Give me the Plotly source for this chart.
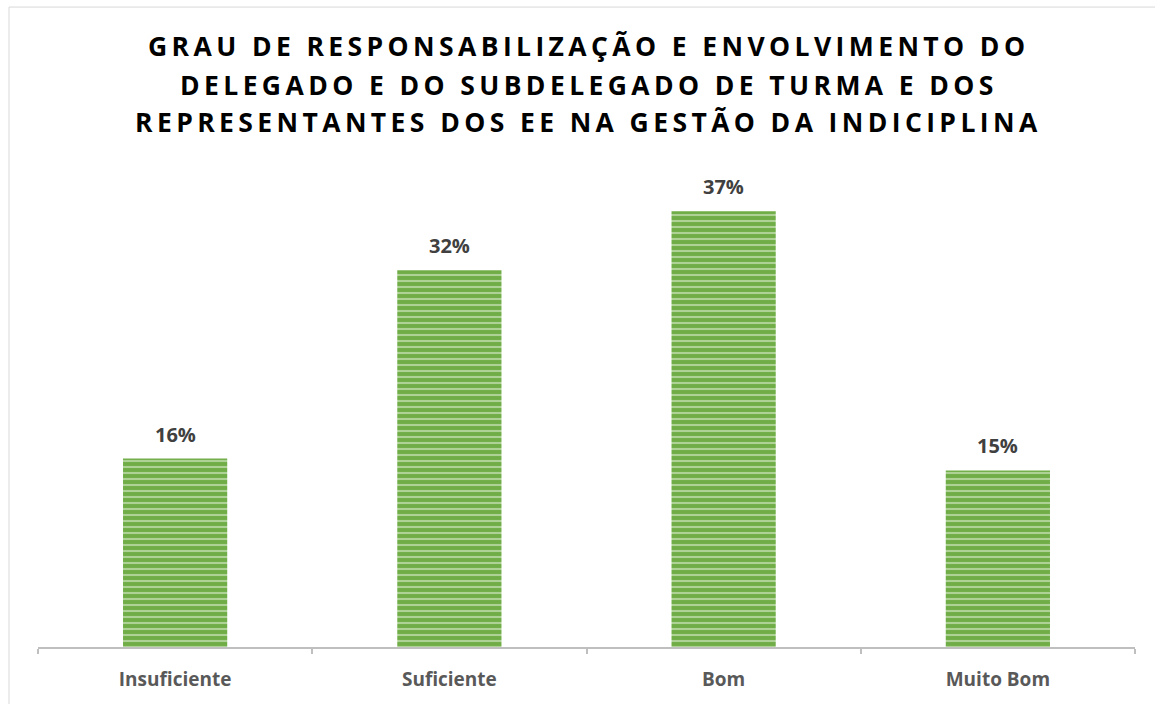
import plotly.graph_objects as go

categories = ["Insuficiente", "Suficiente", "Bom", "Muito Bom"]
values = [16, 32, 37, 15]
labels = ["16%", "32%", "37%", "15%"]
title_lines = [
    "GRAU DE RESPONSABILIZAÇÃO E ENVOLVIMENTO DO",
    "DELEGADO E DO SUBDELEGADO DE TURMA E DOS",
    "REPRESENTANTES DOS EE NA GESTÃO DA INDICIPLINA",
]

SP = "\u2009"


def spaced(s):
    return SP.join(list(s))


W, H = 1155, 704
ML, MR, MT, MB = 38, 20, 176, 54
PH = H - MT - MB
PW = W - ML - MR


def py(pix):
    return (H - MB - pix) / PH


def px(pix):
    return (pix - ML) / PW


fig = go.Figure()
fig.add_trace(go.Bar(
    x=categories,
    y=values,
    marker=dict(
        color="#70AD47",
        line=dict(width=0),
        pattern=dict(shape="-", bgcolor="#70AD47", fgcolor="#ECF5E6",
                     size=6, solidity=0.35, fillmode="overlay"),
    ),
    hoverinfo="skip",
))

for c, v, t in zip(categories, values, labels):
    fig.add_annotation(x=c, y=v, text=t, showarrow=False, yanchor="bottom",
                       yshift=9, font=dict(family="Open Sans", size=20,
                                           color="#404040", weight="bold"))

for line, ypix in zip(title_lines, [45, 84, 122]):
    fig.add_annotation(
        xref="paper", yref="paper", x=px(586), y=py(ypix), yanchor="middle",
        xanchor="center", text=spaced(line), showarrow=False,
        font=dict(family="Open Sans", size=26.5, color="#000000", weight="bold"),
    )

fig.add_shape(type="rect", xref="paper", yref="paper",
              x0=px(9), x1=px(1300), y0=py(800), y1=py(6),
              line=dict(color="#D9D9D9", width=1), fillcolor="rgba(0,0,0,0)",
              layer="below")

fig.update_layout(
    width=W, height=H,
    margin=dict(l=ML, r=MR, t=MT, b=MB),
    paper_bgcolor="white", plot_bgcolor="white",
    bargap=0.62,
    showlegend=False,
    xaxis=dict(
        showline=True, linecolor="#BFBFBF", linewidth=2,
        ticks="outside", tickson="boundaries", ticklen=5,
        tickcolor="#BFBFBF", tickwidth=2, ticklabelstandoff=14,
        tickfont=dict(family="Open Sans", size=19, color="#595959", weight="bold"),
        showgrid=False, zeroline=False,
    ),
    yaxis=dict(range=[0, 40], visible=False, showgrid=False, zeroline=False),
)

fig.write_html("out.html", config={"displayModeBar": False},
               post_script="document.body.style.margin='0';")
